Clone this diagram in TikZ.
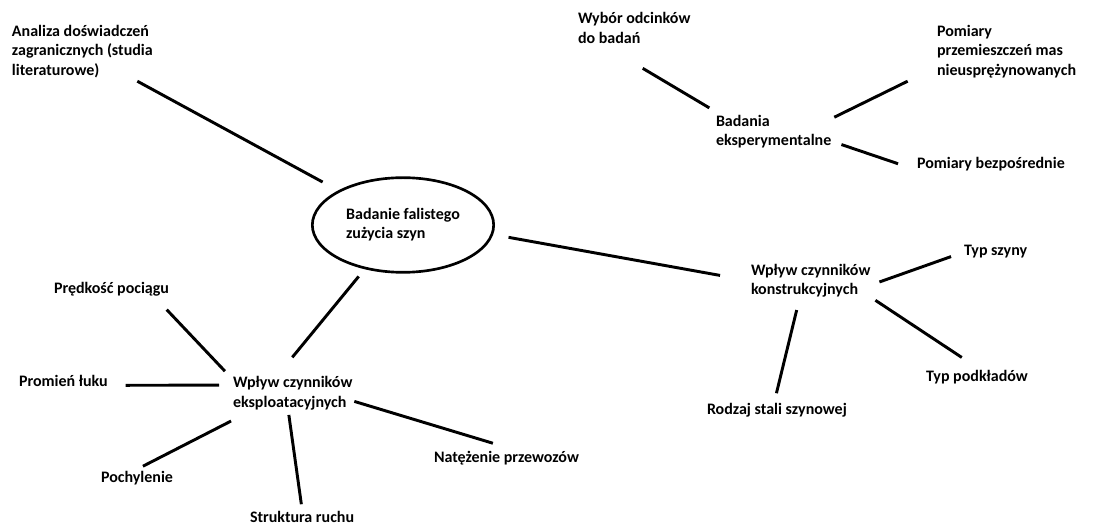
\documentclass[tikz,border=0pt]{standalone}
\usepackage{fontspec}
\setmainfont{Carlito}
\usepackage{tikz}
\usetikzlibrary{shapes.geometric}

\begin{document}
\begin{tikzpicture}[x=0.75pt,y=-0.75pt]
			\tikzstyle{every node}+=[inner sep=0pt,outer sep=0pt,font=\fontsize{12}{14.6}\selectfont\bfseries]
			\tikzstyle{lbl}=[anchor=west,align=left]
			\tikzstyle{conn}=[black,line width=2.2pt]
			\useasboundingbox (0,0) rectangle (1093,530);
			\node [draw,ellipse,line width=2pt,minimum width=136pt,minimum height=71pt,align=left] (ell) at (403,225) {\strut Badanie falistego\\\strut zużycia szyn};
			\node [lbl] (ana) at (12,52) {\strut Analiza doświadczeń\\\strut zagranicznych (studia\\\strut literaturowe)};
			\node [lbl] (eksp) at (233,393.5) {\strut Wpływ czynników\\\strut eksploatacyjnych};
			\node [lbl] (pred) at (54,290) {\strut Prędkość pociągu};
			\node [lbl] (prom) at (19,383) {\strut Promień łuku};
			\node [lbl] (poch) at (101,479) {\strut Pochylenie};
			\node [lbl] (strk) at (250,519) {\strut Struktura ruchu};
			\node [lbl] (nat) at (434,459) {\strut Natężenie przewozów};
			\node [lbl] (konst) at (751,281) {\strut Wpływ czynników\\\strut konstrukcyjnych};
			\node [lbl] (typsz) at (964,252) {\strut Typ szyny};
			\node [lbl] (typpd) at (926,378) {\strut Typ podkładów};
			\node [lbl] (rodz) at (707,411) {\strut Rodzaj stali szynowej};
			\node [lbl] (bad) at (716,132) {\strut Badania\\\strut eksperymentalne};
			\node [lbl] (wyb) at (578,29.5) {\strut Wybór odcinków\\\strut do badań};
			\node [lbl] (pom) at (937,52) {\strut Pomiary\\\strut przemieszczeń mas\\\strut nieusprężynowanych};
			\node [lbl] (bez) at (917,165) {\strut Pomiary bezpośrednie};
			\draw [conn,shorten >=14.4pt] (ana.-28) -- (ell.152);
			\draw [conn,shorten <=12.7pt,shorten >=23.6pt] (ell.-6) -- (konst.west);
			\draw [conn,shorten <=8.1pt,shorten >=16.2pt] (ell.-131) -- (eksp.126);
			\draw [conn,shorten <=8.8pt,shorten >=10.2pt] (eksp.167) -- (pred.-12);
			\draw [conn,shorten <=10.5pt,shorten >=13.5pt] (eksp.172) -- (prom.-3);
			\draw [conn,shorten <=13.3pt,shorten >=5pt] (eksp.-157) -- (poch.north);
			\draw [conn,shorten <=1.5pt,shorten >=3.8pt] (eksp.-102) -- (strk.north);
			\draw [conn,shorten <=1.5pt,shorten >=15.6pt] (eksp.-7) -- (nat.57);
			\draw [conn,shorten <=7.2pt,shorten >=10.3pt] (konst.-4) -- (typsz.west);
			\draw [conn,shorten <=4.5pt,shorten >=14.7pt] (konst.-15) -- (typpd.83);
			\draw [conn,shorten <=7.4pt,shorten >=6.2pt] (konst.-121) -- (rodz.104);
			\draw [conn,shorten <=6.8pt,shorten >=28.4pt] (bad.161) -- (wyb.-141);
			\draw [conn,shorten <=2.5pt,shorten >=24.5pt] (bad.13) -- (pom.-168);
			\draw [conn,shorten <=8pt,shorten >=15pt] (bad.-9) -- (bez.-176);
		\end{tikzpicture}
\end{document}
